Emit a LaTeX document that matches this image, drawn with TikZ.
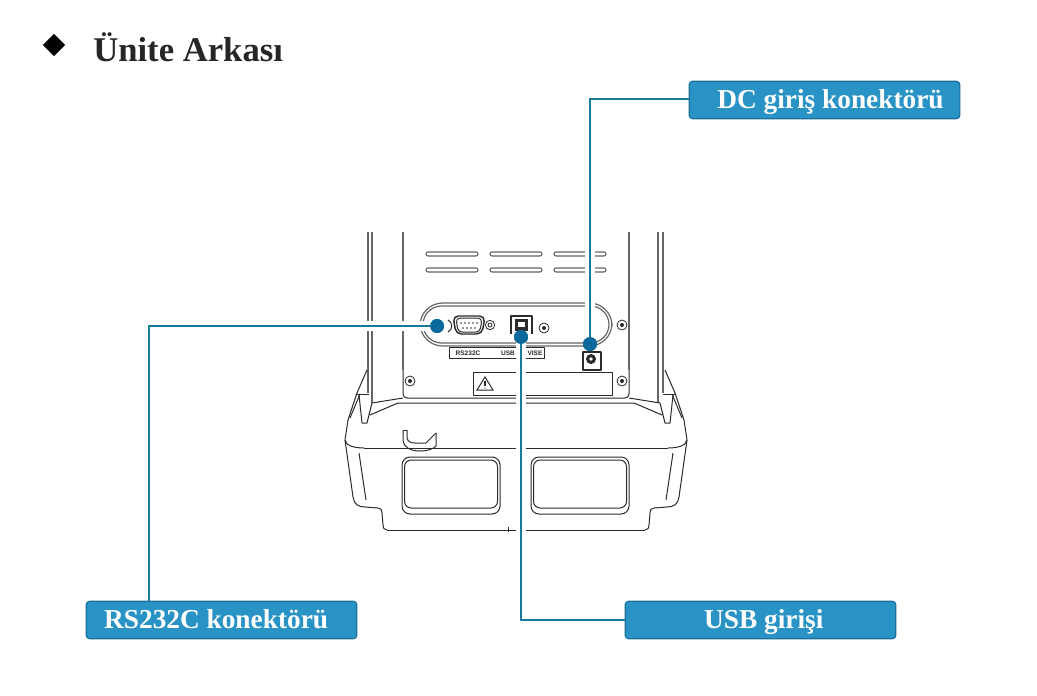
\documentclass[tikz,border=0pt]{standalone}
\usepackage{fontspec}
\setmainfont{Liberation Serif}
\setsansfont{Liberation Sans}
\usetikzlibrary{shapes.geometric}
\definecolor{labelfill}{HTML}{2A93C5}
\definecolor{labeledge}{HTML}{1A7099}
\definecolor{leader}{HTML}{1A7A9C}
\definecolor{dotfill}{HTML}{0B689A}
\definecolor{ink}{HTML}{2B2B2B}
\definecolor{inkgrey}{HTML}{666666}
\tikzset{
  x=0.75pt,y=-0.75pt,
  dev/.style={draw=ink,line width=0.75pt,line join=round},
  devg/.style={draw=inkgrey,line width=0.9pt,line join=round},
  slotline/.style={draw=inkgrey,line width=0.8pt,rounded corners=1.5pt},
  halo/.style={draw=white,line width=7pt},
  leaderline/.style={draw=leader,line width=1.4pt},
  dotnode/.style={circle,fill=dotfill,inner sep=0pt,minimum size=10.5pt},
  labelbox/.style={draw=labeledge,fill=labelfill,line width=0.9pt,rounded corners=2.5pt,
    minimum width=203pt,minimum height=28pt,inner sep=0pt,text=white,
    text height=15.5pt,text depth=3pt,
    font=\fontsize{20.5}{22}\selectfont\bfseries},
  screw/.style={circle,draw=ink,line width=0.6pt,inner sep=0pt,minimum size=7.5pt},
  tiny/.style={inner sep=0pt,font=\sffamily\bfseries\fontsize{4.9}{5}\selectfont,text=ink},
}
\begin{document}
\begin{tikzpicture}
\useasboundingbox (0,0) rectangle (1037,695);
\fill[white] (0,0) rectangle (1037,695);
% title
\node[diamond,fill=black,inner sep=0pt,minimum size=17pt] (mark) at (54,45) {};
\node[anchor=west,inner sep=0pt,font=\fontsize{26}{28}\selectfont\bfseries,text=black!85] (title) at (93,47) {Ünite Arkası};
% rear walls
\foreach \xa in {368,372,403,629,658,663}{\draw[devg] (\xa,232) -- (\xa,370);}
\draw[devg] (368,370) -- (368,393);
\draw[devg] (372,370) -- (372,403);
\draw[dev,rounded corners=3pt] (403,370) -- (403,398) -- (629,398) -- (629,370);
\draw[devg] (658,370) -- (658,403);
\draw[devg] (663,370) -- (663,393);
% slots
\foreach \yy in {254,270}{\foreach \xa/\xb in {426/478,490/542,554/606}{
  \draw[slotline] (\xa,\yy-2) rectangle (\xb,\yy+2);}}
% connector panel
\draw[devg,rounded corners=17pt] (420,303) rectangle (612,346);
\draw[devg,rounded corners=14pt] (423,306) rectangle (609,343);
% rs232
\draw[dev,line width=1.1pt,rounded corners=4pt] (453,316) -- (485,316) -- (482,334) -- (456,334) -- cycle;
\draw[dev,rounded corners=3pt] (456,318) -- (482,318) -- (480,332) -- (458,332) -- cycle;
\foreach \px in {461,465,469,473,477}{\fill[ink] (\px,323) circle (0.7pt);}
\foreach \px in {463,467,471,475}{\fill[ink] (\px,328) circle (0.7pt);}
\node[screw,minimum size=7pt] (rsb) at (490,325) {};
\node[screw,minimum size=3pt] (rsc) at (490,325) {};
\draw[dev] (448,320) .. controls (453,322) and (453,330) .. (448,332);
% usb
\draw[dev,line width=1.2pt] (511,334) -- (511,316) -- (532,316) -- (532,334);
\fill[ink] (515,319) rectangle (528,331);
\fill[white] (518,322) rectangle (525,327);
% screws
\foreach \nn/\sx/\sy in {sa/544/328,sb/622/325,sc/410/381,sd/622/381}{
  \node[screw] (\nn) at (\sx,\sy) {};
  \fill[ink] (\sx,\sy) circle (1.5pt);
}
% silkscreen
\draw[dev] (449,347) rectangle (544,358);
\node[tiny] (lrs) at (468,353) {RS232C};
\node[tiny] (lusb) at (508,353) {USB};
\node[tiny] (lvise) at (535,353) {VISE};
% dc jack
\draw[dev,line width=1pt] (583,352) rectangle (601,370);
\fill[ink] (591,359) circle (3.8pt);
\fill[white] (591,359) circle (1.4pt);
% warning plate
\draw[dev] (473,372) rectangle (612,395);
\draw[dev,line join=miter] (477,390) -- (485,377) -- (493,390) -- cycle;
\draw[ink,line width=0.9pt] (485,381) -- (485,386);
\fill[ink] (485,388) circle (0.5pt);
% base upper edges
\draw[dev] (403,398) -- (372,403);
\draw[dev] (629,398) -- (660,403);
\draw[dev] (370,415) -- (398,403) -- (634,403) -- (662,415);
% side clips and body flanks
\foreach \sgn/\ofs in {1/0,-1/1032}{
  \begin{scope}[xshift=\ofs*0.75pt,xscale=\sgn]
    \draw[dev] (367,370) -- (357,393) -- (348,420);
    \draw[dev] (357,394) -- (369,394);
    \draw[dev] (372,403) -- (367,423) -- (362,423) -- (359,395);
    \draw[dev] (360,394) -- (350,418);
    \draw[dev] (348,420) -- (345,440) .. controls (346,446) and (355,448) .. (364,448);
    \draw[dev] (345,440) -- (353,497) .. controls (354,504) and (358,507) .. (365,507)
      -- (378,508) .. controls (381,508) and (382,510) .. (382,513) -- (383,525)
      .. controls (383,528) and (384,530) .. (387,530);
    \draw[dev] (359,453) -- (366,500);
  \end{scope}
}
\draw[dev] (364,448) -- (668,448);
\draw[dev] (387,530) -- (645,530);
\draw[ink,line width=0.7pt] (508,527) -- (508,532);
% hook
\draw[dev] (403,430) -- (403,441) .. controls (404,447) and (410,451) .. (420,451) .. controls (428,451) and (433,449) .. (436,446) -- (436,433);
\draw[dev] (407,430) -- (407,438) .. controls (408,442) and (411,443) .. (415,443) -- (426,443) -- (436,433);
\draw[dev] (403,430) -- (407,430);
% windows
\foreach \wl/\wr in {402/500,531/629}{
  \draw[dev,rounded corners=6pt] (\wl,457) rectangle (\wr,514);
  \draw[dev,rounded corners=5pt] (\wl+2.5,460) rectangle (\wr-2.5,508);
}
% label boxes
\node[labelbox] (dcbox) at (824.5,100) {\hspace{9pt}DC giriş konektörü};
\node[labelbox] (rsbox) at (221.5,620) {\hspace{-8pt}RS232C konektörü};
\node[labelbox] (usbbox) at (760.5,620) {\hspace{5pt}USB girişi};
% anchors
\node[dotnode] (dotrs) at (437,326) {};
\node[dotnode] (dotusb) at (521,337) {};
\node[dotnode] (dotdc) at (590,344) {};
\coordinate (bendrs) at (149,326);
\coordinate (bendusb) at (521,620);
\coordinate (benddc) at (590,99);
% leaders
\draw[halo] (dotrs.center) -- (bendrs);
\draw[halo] (dotusb.center) -- (521,545);
\draw[halo] (dotdc.center) -- (benddc);
\draw[leaderline] (dotrs.center) -- (bendrs) -- (bendrs|-rsbox.north);
\draw[leaderline] (dotusb.center) -- (bendusb) -- (usbbox.west);
\draw[leaderline] (dotdc.center) -- (benddc) -- (benddc-|dcbox.west);
\node[dotnode] at (dotrs) {};
\node[dotnode] at (dotusb) {};
\node[dotnode] at (dotdc) {};
\end{tikzpicture}
\end{document}
